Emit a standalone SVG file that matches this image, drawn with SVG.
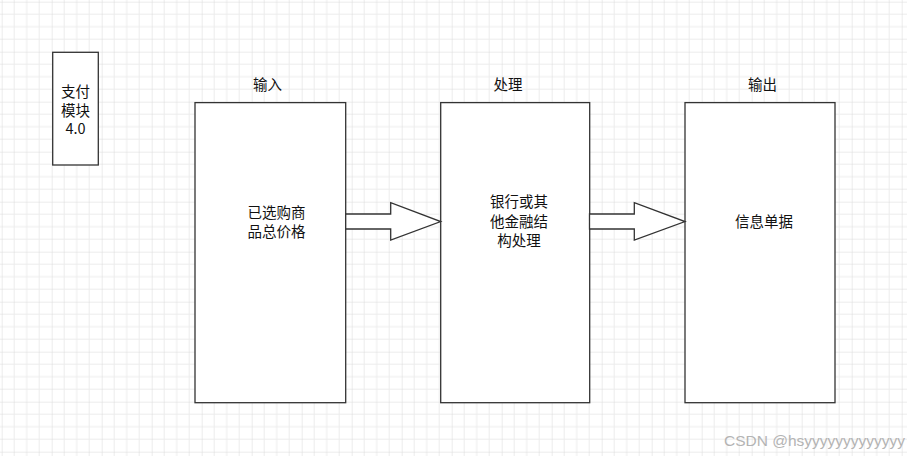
<svg xmlns="http://www.w3.org/2000/svg" width="907" height="456" viewBox="0 0 907 456">
<style>
.box{fill:#fff;stroke:#333;stroke-width:1.3}
.arrow{fill:#fff;stroke:#333;stroke-width:1.3;stroke-linejoin:miter}
.t{font-family:"Noto Sans CJK SC","Liberation Sans",sans-serif;font-size:14.5px;fill:#111;text-anchor:middle;dominant-baseline:central}
.wm{font-family:"Liberation Sans","Noto Sans CJK SC",sans-serif;font-size:15.5px;fill:#b4b4b4}
</style>
<defs>
<pattern id="grid" patternUnits="userSpaceOnUse" x="1.7" y="1.7" width="50" height="50">
<path d="M12.5 0V50M25 0V50M37.5 0V50M0 12.5H50M0 25H50M0 37.5H50" stroke="#ececec" stroke-width="1" fill="none"/>
<path d="M0 0V50M0 0H50" stroke="#dadada" stroke-width="1" fill="none"/>
</pattern>
</defs>
<rect width="907" height="456" fill="#fff"/>
<rect width="907" height="456" fill="url(#grid)"/>
<g id="module">
<rect class="box" x="52.7" y="52.3" width="45.6" height="112.7"/>
<text class="t" x="75.5" y="90">支付</text>
<text class="t" x="75.5" y="109">模块</text>
<text class="t" x="75.5" y="127.5">4.0</text>
</g>
<g id="input">
<text class="t" x="267.5" y="83.5">输入</text>
<rect class="box" x="195" y="102.6" width="150.7" height="300.1"/>
<text class="t" x="276.5" y="211.5">已选购商</text>
<text class="t" x="276.5" y="230">品总价格</text>
</g>
<g id="process">
<text class="t" x="508" y="83.5">处理</text>
<rect class="box" x="440.7" y="102.6" width="149" height="300.1"/>
<text class="t" x="519" y="200.5">银行或其</text>
<text class="t" x="519" y="220">他金融结</text>
<text class="t" x="519" y="239.5">构处理</text>
</g>
<g id="output">
<text class="t" x="762.5" y="83.5">输出</text>
<rect class="box" x="685" y="102.6" width="150" height="300.1"/>
<text class="t" x="764" y="220.5">信息单据</text>
</g>
<g id="connectors">
<path class="arrow" d="M345.7 214H390.7V202.7L440.7 221.6L390.7 240V229H345.7Z"/>
<path class="arrow" d="M589.5 214H634.3V202.7L685 221.6L634.3 240V229H589.5Z"/>
</g>
<text class="wm" x="724" y="446">CSDN @hsyyyyyyyyyyyyy</text>
</svg>
